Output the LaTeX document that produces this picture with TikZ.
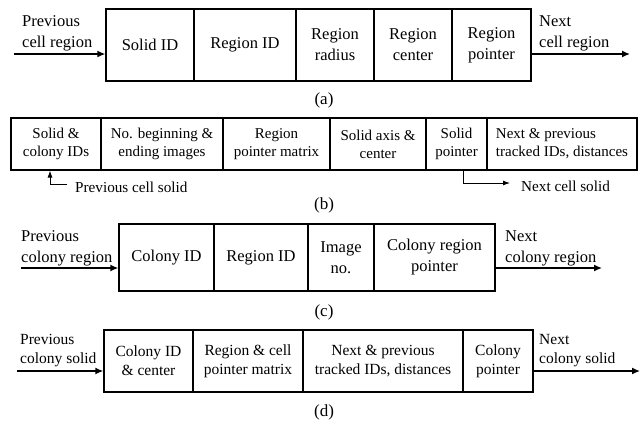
\documentclass[tikz,border=0pt]{standalone}
\usepackage{fontspec}
\setmainfont{Liberation Serif}
\usetikzlibrary{arrows.meta}
\tikzset{
  cellA/.style={draw, line width=1.3pt, inner sep=0pt, align=center, font=\fontsize{16.5}{21}\selectfont},
  cellB/.style={draw, line width=1.1pt, inner sep=0pt, align=center, font=\fontsize{15}{18}\selectfont},
  cellD/.style={draw, line width=1.3pt, inner sep=0pt, align=center, font=\fontsize{15.5}{19}\selectfont},
  lbl/.style={inner sep=0pt, align=left, font=\fontsize{16.5}{21}\selectfont},
  lblD/.style={inner sep=0pt, align=left, font=\fontsize{15.5}{19}\selectfont},
  lblB/.style={inner sep=0pt, font=\fontsize{15.2}{18}\selectfont},
  captext/.style={inner sep=0pt, font=\fontsize{17}{18}\selectfont},
  arr/.style={line width=1.4pt, -{Latex[length=8pt,width=7pt]}},
  arrB/.style={line width=0.9pt, -{Latex[length=7pt,width=5pt]}},
}
\begin{document}
\begin{tikzpicture}[x=1pt,y=-1pt]
\useasboundingbox (0,0) rectangle (644,424);
% ---------- (a)
\node[cellA, minimum width=88pt, minimum height=72pt] (a1) at (150,45) {Solid ID};
\node[cellA, minimum width=102pt, minimum height=72pt] (a2) at (245,45) {Region ID};
\node[cellA, minimum width=78pt, minimum height=72pt] (a3) at (335,45) {Region\\radius};
\node[cellA, minimum width=78pt, minimum height=72pt] (a4) at (413,45) {Region\\center};
\node[cellA, minimum width=79pt, minimum height=72pt] (a5) at (491.5,45) {Region\\pointer};
\node[lbl, anchor=west] (al) at (22,33) {Previous\\cell region};
\node[lbl, anchor=west] (ar) at (539,33) {Next\\cell region};
\coordinate (pa) at (14,54);
\coordinate (na) at (630,54);
\draw[arr] (pa) -- (pa -| a1.west);
\draw[arr] (na -| a5.east) -- (na);
\node[captext] (capa) at (324,100) {(a)};
% ---------- (b)
\node[cellB, minimum width=90pt, minimum height=52pt] (b1) at (56,144) {Solid \&\\colony IDs};
\node[cellB, minimum width=122pt, minimum height=52pt] (b2) at (162,144) {No. beginning \&\\ending images};
\node[cellB, minimum width=107pt, minimum height=52pt] (b3) at (276.5,144) {Region\\pointer matrix};
\node[cellB, minimum width=96pt, minimum height=52pt] (b4) at (378,144) {Solid axis \&\\center};
\node[cellB, minimum width=61pt, minimum height=52pt] (b5) at (456.5,144) {Solid\\pointer};
\node[cellB, minimum width=150pt, minimum height=52pt, align=left] (b6) at (562,144) {Next \& previous\\tracked IDs, distances};
\node[lblB, anchor=west] (pcs) at (75,187) {Previous cell solid};
\node[lblB, anchor=west] (ncs) at (521,186) {Next cell solid};
\draw[arrB] ([xshift=-8pt,yshift=3pt]pcs.west) -| ([xshift=-6pt]b1.south);
\draw[arrB] ([xshift=6.5pt]b5.south) |- ([xshift=-11pt,yshift=3pt]ncs.west);
\node[captext] (capb) at (324,205) {(b)};
% ---------- (c)
\node[cellA, minimum width=95pt, minimum height=67pt] (c1) at (166.5,257.5) {Colony ID};
\node[cellA, minimum width=94pt, minimum height=67pt] (c2) at (261,257.5) {Region ID};
\node[cellA, minimum width=66pt, minimum height=67pt] (c3) at (341,257.5) {Image\\no.};
\node[cellA, minimum width=121pt, minimum height=67pt] (c4) at (434.5,257.5) {Colony region\\pointer};
\node[lbl, anchor=west] (cl) at (21,248) {Previous\\colony region};
\node[lbl, anchor=west] (cr) at (505,248) {Next\\colony region};
\coordinate (pc) at (21,268);
\coordinate (nc) at (602,268);
\draw[arr] (pc) -- (pc -| c1.west);
\draw[arr] (nc -| c4.east) -- (nc);
\node[captext] (capc) at (324,312) {(c)};
% ---------- (d)
\node[cellD, minimum width=89pt, minimum height=62pt] (d1) at (148.5,361) {Colony ID\\\& center};
\node[cellD, minimum width=110pt, minimum height=62pt] (d2) at (248,361) {Region \& cell\\pointer matrix};
\node[cellD, minimum width=160pt, minimum height=62pt] (d3) at (383,361) {Next \& previous\\tracked IDs, distances};
\node[cellD, minimum width=70pt, minimum height=62pt] (d4) at (498,361) {Colony\\pointer};
\node[lblD, anchor=west] (dl) at (20,350.5) {Previous\\colony solid};
\node[lblD, anchor=west] (dr) at (539,350.5) {Next\\colony solid};
\coordinate (pd) at (17,371);
\coordinate (nd) at (640,371);
\draw[arr] (pd) -- (pd -| d1.west);
\draw[arr] (nd -| d4.east) -- (nd);
\node[captext] (capd) at (324,412) {(d)};
\end{tikzpicture}
\end{document}
